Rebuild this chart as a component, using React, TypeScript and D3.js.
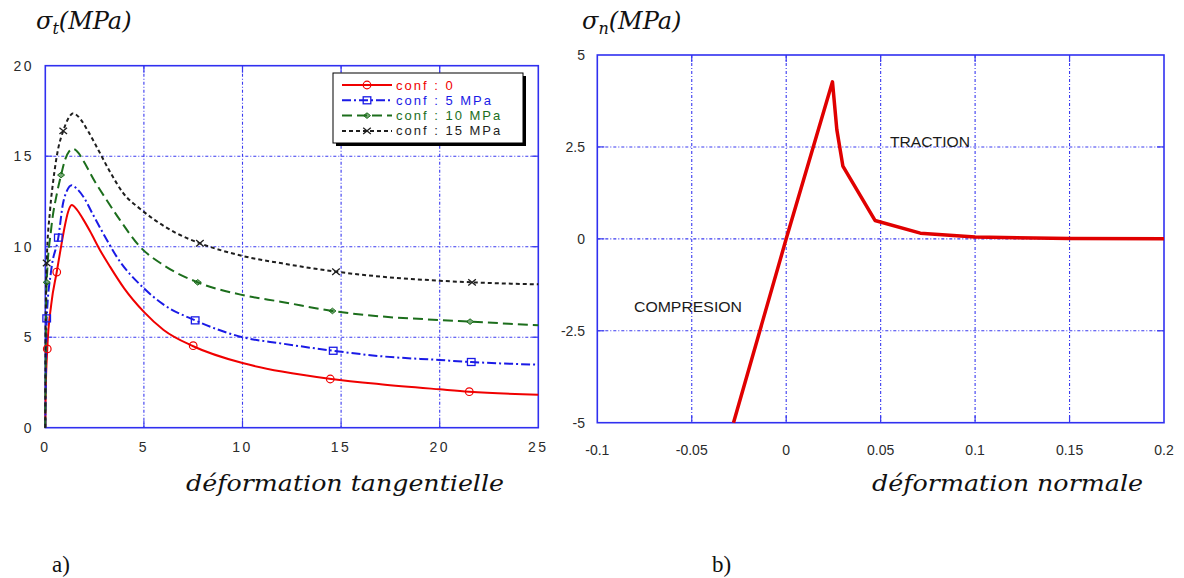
import React from "react";
import * as d3 from "d3";

// ---------- Chart a) data ----------
const xTicksA = [0, 5, 10, 15, 20, 25];
const yTicksA = [0, 5, 10, 15, 20];

const conf0: [number, number][] = [
  [0, 0], [0.02, 2], [0.1, 4.35], [0.3, 6.8], [0.58, 8.6], [0.83, 10.2], [1.0, 11.2], [1.15, 11.9],
  [1.34, 12.3], [1.6, 12.05], [1.9, 11.55], [2.27, 10.85], [2.77, 9.82], [3.28, 8.9], [4, 7.7], [5, 6.4],
  [6, 5.4], [7.5, 4.5], [10, 3.57], [12, 3.1], [14.5, 2.69], [17, 2.4], [20, 2.12], [21.5, 1.99], [25, 1.82],
];
const conf5: [number, number][] = [
  [0, 0], [0.03, 3], [0.07, 6.04], [0.3, 8.7], [0.66, 10.5], [0.9, 12.4], [1.1, 13.1], [1.34, 13.4],
  [1.6, 13.2], [1.93, 12.76], [2.43, 11.75], [3.03, 10.55], [3.62, 9.45], [5, 7.7], [6, 6.8], [7.6, 5.93],
  [10, 5.0], [12, 4.65], [14.6, 4.25], [17, 3.95], [20, 3.74], [21.6, 3.63], [25, 3.48],
];
const conf10: [number, number][] = [
  [0, 0], [0.02, 4], [0.07, 8.03], [0.3, 11], [0.6, 13], [0.8, 13.96], [1.0, 14.8], [1.2, 15.25],
  [1.42, 15.4], [1.7, 15.15], [1.93, 14.75], [2.52, 13.59], [3.11, 12.58], [3.79, 11.47], [4.8, 10.0],
  [5.98, 8.99], [7.73, 8.03], [10, 7.33], [12, 6.95], [14.56, 6.45], [17, 6.15], [20, 5.95], [21.54, 5.86], [25, 5.66],
];
const conf15: [number, number][] = [
  [0, 0], [0.01, 5], [0.07, 9.1], [0.24, 12.0], [0.41, 13.7], [0.65, 15.4], [0.91, 16.4], [1.15, 17.05],
  [1.42, 17.37], [1.67, 17.19], [2.18, 16.36], [2.69, 15.34], [3.28, 14.14], [3.96, 12.95], [4.8, 12.1],
  [5.56, 11.47], [6.66, 10.74], [7.84, 10.19], [10, 9.49], [12, 9.08], [14.74, 8.62], [17, 8.35], [20, 8.12],
  [21.64, 8.03], [25, 7.92],
];

const marks0: [number, number][] = [[0.1, 4.35], [0.58, 8.6], [7.5, 4.53], [14.45, 2.69], [21.5, 1.99]];
const marks5: [number, number][] = [[0.07, 6.04], [0.66, 10.5], [7.6, 5.93], [14.6, 4.25], [21.6, 3.63]];
const marks10: [number, number][] = [[0.07, 8.03], [0.8, 13.96], [7.73, 8.03], [14.56, 6.45], [21.54, 5.86]];
const marks15: [number, number][] = [[0.07, 9.1], [0.91, 16.4], [7.84, 10.19], [14.74, 8.62], [21.64, 8.03]];

const seriesNames = ["conf : 0", "conf : 5 MPa", "conf : 10 MPa", "conf : 15 MPa"];

// ---------- Chart b) data ----------
const xTicksB = [-0.1, -0.05, 0, 0.05, 0.1, 0.15, 0.2];
const yTicksB = [-5, -2.5, 0, 2.5, 5];
const normalX = [-0.0279, 0, 0.0245, 0.0268, 0.03, 0.047, 0.071, 0.1, 0.15, 0.2];
const normalY = [-5, 0, 4.27, 2.97, 1.98, 0.5, 0.155, 0.05, 0.01, 0];

const GRID = "#3a3af0";
const TICKFONT = "'Liberation Sans', Arial, sans-serif";
const MATH = "'DejaVu Serif', 'Liberation Serif', serif";
const ROMAN = "'Liberation Serif', serif";

const styles = [
  { color: "#f00000", dash: "none", marker: "circle" },
  { color: "#1a1ae6", dash: "9,3,2,3", marker: "square" },
  { color: "#1c6e1c", dash: "10,5", marker: "diamond" },
  { color: "#1e1e1e", dash: "4,3", marker: "x" },
];

function Marker({ kind, x, y, color }: { kind: string; x: number; y: number; color: string }) {
  if (kind === "circle") return <circle cx={x} cy={y} r={3.8} fill="none" stroke={color} strokeWidth={1.2} />;
  if (kind === "square")
    return <rect x={x - 3.8} y={y - 3.5} width={7.6} height={7} fill="none" stroke={color} strokeWidth={1.3} />;
  if (kind === "diamond")
    return (
      <path d={`M${x - 3.5},${y}L${x},${y - 2.8}L${x + 3.5},${y}L${x},${y + 2.8}Z`} fill={color} fillOpacity={0.6} stroke={color} strokeWidth={1} />
    );
  return (
    <path d={`M${x - 3.8},${y - 3.2}L${x + 3.8},${y + 3.2}M${x - 3.8},${y + 3.2}L${x + 3.8},${y - 3.2}`} stroke={color} strokeWidth={1.3} />
  );
}

function Frame({ x0, x1, y0, y1, xs, ys }: { x0: number; x1: number; y0: number; y1: number; xs: number[]; ys: number[] }) {
  const t = 7;
  return (
    <g>
      {xs.map((px, i) => (
        <g key={"vx" + i}>
          <line x1={px} x2={px} y1={y0} y2={y1} stroke={GRID} strokeWidth={1.1} strokeDasharray="3,2,1,2" />
          <line x1={px} x2={px} y1={y0} y2={y0 + t} stroke={GRID} strokeWidth={1.2} />
          <line x1={px} x2={px} y1={y1} y2={y1 - t} stroke={GRID} strokeWidth={1.2} />
        </g>
      ))}
      {ys.map((py, i) => (
        <g key={"hy" + i}>
          <line x1={x0} x2={x1} y1={py} y2={py} stroke={GRID} strokeWidth={1.1} strokeDasharray="3,2,1,2" />
          <line x1={x0} x2={x0 + t} y1={py} y2={py} stroke={GRID} strokeWidth={1.2} />
          <line x1={x1} x2={x1 - t} y1={py} y2={py} stroke={GRID} strokeWidth={1.2} />
        </g>
      ))}
      <rect x={x0} y={y0} width={x1 - x0} height={y1 - y0} fill="none" stroke="#3030f0" strokeWidth={1.6} />
    </g>
  );
}

export default function App() {
  // Chart a
  const xa = d3.scaleLinear().domain([0, 25]).range([45.3, 538.3]);
  const ya = d3.scaleLinear().domain([0, 20]).range([427.7, 65.7]);
  const lineA = d3
    .line<[number, number]>()
    .x((d) => xa(d[0]))
    .y((d) => ya(d[1]))
    .curve(d3.curveMonotoneX);
  const seriesA = [conf0, conf5, conf10, conf15];
  const marksA = [marks0, marks5, marks10, marks15];

  // Chart b
  const xb = d3.scaleLinear().domain([-0.1, 0.2]).range([597.3, 1164]);
  const yb = d3.scaleLinear().domain([-5, 5]).range([422.7, 55]);
  const lineB = d3
    .line<number>()
    .x((d) => xb(d))
    .y((_, i) => yb(normalY[i]));

  const fmtB = (v: number) => (v === 0 ? "0" : String(v));

  const legX = 333, legY = 73, legW = 190, legH = 70;

  return (
    <svg width={1184} height={578} style={{ position: "absolute", left: 0, top: 0, background: "#fff" }}>
      <rect x={0} y={0} width={1184} height={578} fill="#fff" />

      {/* ---------- Chart a ---------- */}
      <Frame x0={xa(0)} x1={xa(25)} y0={ya(20)} y1={ya(0)} xs={xTicksA.slice(1, -1).map(xa)} ys={yTicksA.slice(1, -1).map(ya)} />
      {xTicksA.map((v) => (
        <text key={"xa" + v} x={xa(v)} y={452} textAnchor="middle" fontFamily={TICKFONT} fontSize={14} letterSpacing={2.5} fill="#2b2b2b">
          {v}
        </text>
      ))}
      {yTicksA.map((v) => (
        <text key={"ya" + v} x={34} y={ya(v) + 5} textAnchor="end" fontFamily={TICKFONT} fontSize={14} letterSpacing={2.5} fill="#2b2b2b">
          {v}
        </text>
      ))}
      {seriesA.map((s, i) => (
        <path key={"sa" + i} d={lineA(s) || ""} fill="none" stroke={styles[i].color} strokeWidth={2} strokeDasharray={styles[i].dash} />
      ))}
      {marksA.map((ms, i) =>
        ms.map((m, j) => <Marker key={"m" + i + "_" + j} kind={styles[i].marker} x={xa(m[0])} y={ya(m[1])} color={styles[i].color} />)
      )}

      {/* legend */}
      <rect x={legX + 3} y={legY + 3} width={legW} height={legH} fill="#000" />
      <rect x={legX} y={legY} width={legW} height={legH} fill="#fff" stroke="#000" strokeWidth={1} />
      {seriesNames.map((n, i) => {
        const ly = legY + 12 + i * 15.3;
        return (
          <g key={"leg" + i}>
            <line x1={legX + 9} x2={legX + 59} y1={ly} y2={ly} stroke={styles[i].color} strokeWidth={2} strokeDasharray={styles[i].dash} />
            <Marker kind={styles[i].marker} x={legX + 34} y={ly} color={styles[i].color} />
            <text x={legX + 63} y={ly + 4.5} fontFamily={TICKFONT} fontSize={13} letterSpacing={2} fill={styles[i].color}>
              {n}
            </text>
          </g>
        );
      })}

      {/* titles a */}
      <text x={36} y={29} fontFamily={MATH} fontStyle="italic" fontSize={24} fill="#111">
        σ<tspan fontSize={16} dy={5}>t</tspan>
        <tspan dy={-5}>(MPa)</tspan>
      </text>
      <text x={186} y={491} fontFamily={MATH} fontStyle="italic" fontSize={22} fill="#111" textLength={318} lengthAdjust="spacingAndGlyphs">
        déformation tangentielle
      </text>
      <text x={52} y={572} fontFamily={ROMAN} fontSize={23} fill="#111">
        a)
      </text>

      {/* ---------- Chart b ---------- */}
      <Frame x0={xb(-0.1)} x1={xb(0.2)} y0={yb(5)} y1={yb(-5)} xs={xTicksB.slice(1, -1).map(xb)} ys={yTicksB.slice(1, -1).map(yb)} />
      {xTicksB.map((v) => (
        <text key={"xb" + v} x={xb(v)} y={455} textAnchor="middle" fontFamily={TICKFONT} fontSize={14} fill="#2b2b2b">
          {fmtB(v)}
        </text>
      ))}
      {yTicksB.map((v) => (
        <text key={"yb" + v} x={585} y={yb(v) + 5} textAnchor="end" fontFamily={TICKFONT} fontSize={14} fill="#2b2b2b">
          {fmtB(v)}
        </text>
      ))}
      <path d={lineB(normalX) || ""} fill="none" stroke="#e00000" strokeWidth={3.5} strokeLinejoin="round" />
      <text x={890} y={147} fontFamily={TICKFONT} fontSize={14} fill="#1a1a1a" textLength={80} lengthAdjust="spacingAndGlyphs">
        TRACTION
      </text>
      <text x={634} y={312} fontFamily={TICKFONT} fontSize={14} fill="#1a1a1a" textLength={108} lengthAdjust="spacingAndGlyphs">
        COMPRESION
      </text>

      <text x={582} y={29} fontFamily={MATH} fontStyle="italic" fontSize={24} fill="#111">
        σ<tspan fontSize={16} dy={5}>n</tspan>
        <tspan dy={-5}>(MPa)</tspan>
      </text>
      <text x={872} y={491} fontFamily={MATH} fontStyle="italic" fontSize={22} fill="#111" textLength={271} lengthAdjust="spacingAndGlyphs">
        déformation normale
      </text>
      <text x={712} y={572} fontFamily={ROMAN} fontSize={23} fill="#111">
        b)
      </text>
    </svg>
  );
}
